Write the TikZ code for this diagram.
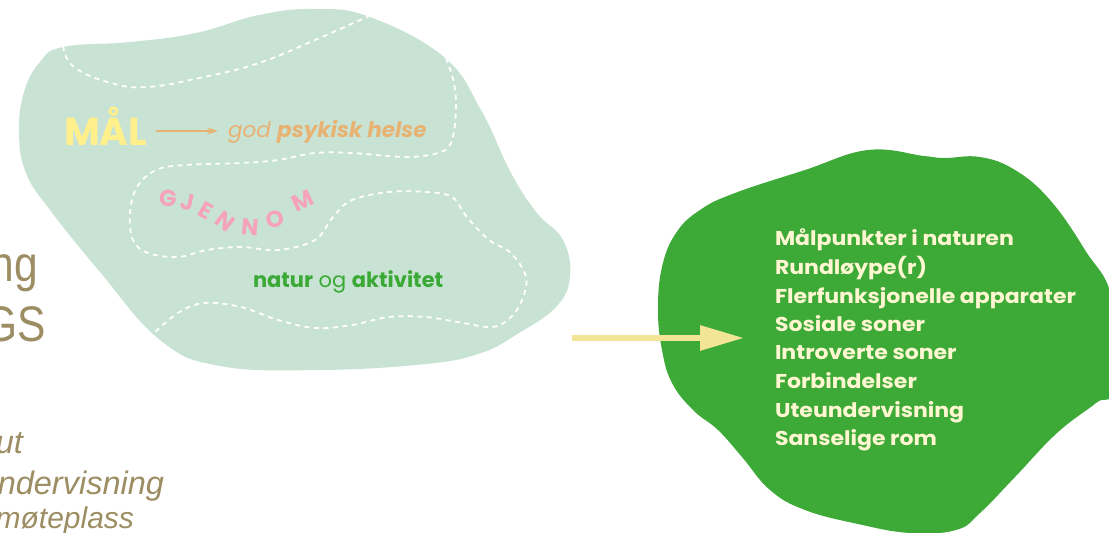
\documentclass[tikz,border=0pt]{standalone}
\usepackage{fontspec}
\setmainfont{Liberation Sans}
\newfontfamily\pop{Poppins}
\newfontfamily\popwide[FakeStretch=1.1]{Poppins}
\newfontfamily\olivenarrow[FakeStretch=0.85]{Liberation Sans}
\usetikzlibrary{arrows.meta}
\definecolor{pale}{HTML}{C8E3D4}
\definecolor{blobgreen}{HTML}{3DA937}
\definecolor{malyellow}{HTML}{FFF08C}
\definecolor{orange}{HTML}{E8B273}
\definecolor{pink}{HTML}{F5A3BC}
\definecolor{textgreen}{HTML}{3AA935}
\definecolor{cream}{HTML}{FFF6D2}
\definecolor{olive}{HTML}{9C8D62}
\definecolor{arrowyellow}{HTML}{F3E596}
\tikzset{
  dashline/.style={draw=white, line width=1.8pt, dash pattern=on 5pt off 4.5pt},
  lbl/.style={inner sep=0pt, outer sep=0pt},
  listline/.style={lbl, anchor=base west, text=cream, font=\popwide\bfseries\fontsize{20}{22}\selectfont},
  gletter/.style={lbl, text=pink, font=\pop\bfseries\fontsize{23}{24}\selectfont},
  bigolive/.style={lbl, anchor=base east, text=olive, font=\olivenarrow\fontsize{50}{52}\selectfont},
  itolive/.style={lbl, anchor=base east, text=olive, font=\itshape\fontsize{32.5}{34}\selectfont},
}
\begin{document}
\begin{tikzpicture}[x=1pt,y=-1pt]
\useasboundingbox (0,0) rectangle (1109,533);
\begin{scope}
\clip (0,0) rectangle (1109,533);
% pale blob
\fill[pale] plot[smooth cycle, tension=0.7] coordinates {
 (63,47) (130,42) (196,33) (259,15) (315,9) (370,17) (444,57) (481,110)
 (511,173) (537,213) (563,240) (570,277) (556,307) (519,333) (481,353)
 (426,364) (320,370) (220,366) (160,340) (100,272) (50,210) (26,173)
 (19,133) (24,92) (40,62)};
% dashed lines
\draw[dashline] plot[smooth, tension=0.7] coordinates {
 (63,46) (74,67) (111,83) (148,87) (204,77) (259,63) (315,40) (369,16)};
\draw[dashline] plot[smooth, tension=0.6] coordinates {
 (446,58) (454,83) (456,110) (452,140) (441,152) (407,157) (352,153)
 (315,153) (278,160) (241,163) (185,165) (156,170) (137,187) (130,213)
 (133,240) (148,253) (178,257) (207,250) (241,247) (278,250) (315,240)
 (333,217) (352,200) (389,192) (426,192) (452,197) (467,217) (489,240)
 (511,253) (526,277) (522,300) (511,317) (493,327) (463,323) (426,317)
 (389,317) (352,325) (315,328) (278,320) (241,307) (204,303) (178,313)
 (154,333)};
% green blob
\fill[blobgreen] plot[smooth cycle, tension=0.7] coordinates {
 (868,150) (924,156) (945,158) (980,157) (1015,170) (1050,200) (1085,250)
 (1112,300) (1112,388) (1096,403) (1057,433) (1015,477) (980,513)
 (956,530) (910,533) (858,524) (805,510) (770,490) (742,457) (718,430)
 (693,410) (672,383) (662,350) (658,310) (662,267) (676,233) (700,210)
 (735,193) (805,170)};
% left cut-off texts
\node[bigolive] (ng) at (38,281) {ng};
\node[bigolive] (gs) at (46,341) {GS};
\node[itolive] (ut) at (23,453) {ut};
\node[itolive] (underv) at (164,494) {ndervisning};
\node[itolive, font=\itshape\fontsize{30}{32}\selectfont] (mote) at (134,528) {møteplass};
% MAL row
\node[lbl, anchor=base west, text=malyellow, font=\pop\bfseries\fontsize{39}{40}\selectfont] (mal) at (64,145) {MÅL};
\node[lbl, anchor=base west, text=orange, font=\pop\fontsize{21.5}{22}\selectfont] (god) at (228,137) {\itshape god \bfseries psykisk helse};
\coordinate (ma) at (156,131);
\coordinate (mb) at (218,131);
\draw[orange, line width=1.1pt, -{Stealth[length=11pt,width=7pt]}] (ma) -- (mb);
% GJENNOM
\node[gletter, rotate=-6] (g1) at (168,198) {G};
\node[gletter, rotate=-12] (g2) at (188,202) {J};
\node[gletter, rotate=-30] (g3) at (206,211) {E};
\node[gletter, rotate=-38] (g4) at (225,221) {N};
\node[gletter, rotate=-5] (g5) at (250,227) {N};
\node[gletter, rotate=15] (g6) at (275,219) {O};
\node[gletter, rotate=25] (g7) at (303,201) {M};
% natur og aktivitet
\node[lbl, anchor=base west, text=textgreen, font=\pop\fontsize{21}{22}\selectfont] (natur) at (253,287) {\textbf{natur} og \textbf{aktivitet}};
% list
\node[listline] (l1) at (775,245) {Målpunkter i naturen};
\node[listline] (l2) at (775,274) {Rundløype(r)};
\node[listline] (l3) at (775,303) {Flerfunksjonelle apparater};
\node[listline] (l4) at (775,331) {Sosiale soner};
\node[listline] (l5) at (775,359) {Introverte soner};
\node[listline] (l6) at (775,388) {Forbindelser};
\node[listline] (l7) at (775,417) {Uteundervisning};
\node[listline] (l8) at (775,445) {Sanselige rom};
% yellow arrow
\coordinate (as) at (572,338);
\coordinate (ae) at (744,338);
\draw[arrowyellow, line width=6pt, -{Triangle[length=44pt,width=24pt]}] (as) -- (ae);
\end{scope}
\end{tikzpicture}
\end{document}
